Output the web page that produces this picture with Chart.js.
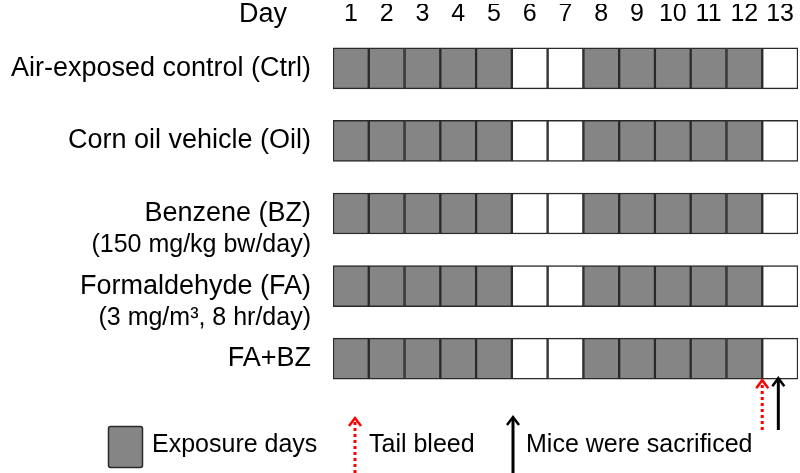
<!DOCTYPE html>
<html>
<head>
<meta charset="utf-8">
<script src="https://cdn.jsdelivr.net/npm/chart.js@4"></script>
<style>
  html, body { margin: 0; padding: 0; background: #fff; }
</style>
</head>
<body>
<canvas id="schedule" width="800" height="473"></canvas>
<script>
// study days and exposure schedule (1 = exposure day)
const days = [1, 2, 3, 4, 5, 6, 7, 8, 9, 10, 11, 12, 13];
const exposed = [1, 1, 1, 1, 1, 0, 0, 1, 1, 1, 1, 1, 0];
const groups = ['Air-exposed control (Ctrl)', 'Corn oil vehicle (Oil)', 'Benzene (BZ)', 'Formaldehyde (FA)', 'FA+BZ'];
const groupNotes = ['', '', '(150 mg/kg bw/day)', '(3 mg/m³, 8 hr/day)', ''];
// events, as position on the day axis
const tailBleedAt = 12;
const sacrificeAt = 12.45;

const FONT = '"Liberation Sans", Arial, sans-serif';
const GRAY = '#858585';
const EDGE = '#2a2a2a';

const datasets = days.map((d, i) => ({
    label: 'Day ' + d,
    data: groups.map(() => [d - 1, d]),
    backgroundColor: groups.map(() => exposed[i] ? GRAY : '#ffffff'),
    borderColor: EDGE,
    borderWidth: 1.5,
    borderSkipped: false,
    barThickness: 41,
    grouped: false
}));

function arrow(ctx, x, yTop, yBottom, color, dotted) {
    ctx.save();
    ctx.strokeStyle = color;
    ctx.lineWidth = 3;
    ctx.setLineDash(dotted ? [3, 3] : []);
    ctx.beginPath();
    ctx.moveTo(x, yBottom);
    ctx.lineTo(x, yTop + 3);
    ctx.stroke();
    ctx.setLineDash([]);
    ctx.lineWidth = 2.5;
    ctx.beginPath();
    ctx.moveTo(x - 6, yTop + 9);
    ctx.lineTo(x, yTop + 1);
    ctx.lineTo(x + 6, yTop + 9);
    ctx.stroke();
    ctx.restore();
}

const decorations = {
    id: 'decorations',
    afterDatasetsDraw(chart) {
        const ctx = chart.ctx;
        const xs = chart.scales.x, ys = chart.scales.y;
        ctx.save();
        ctx.fillStyle = '#000';
        ctx.textAlign = 'right';
        ctx.textBaseline = 'middle';
        groups.forEach((g, i) => {
            const y = ys.getPixelForValue(i);
            ctx.font = '27px ' + FONT;
            ctx.fillText(g, 311, y);
            if (groupNotes[i]) {
                ctx.font = '25px ' + FONT;
                ctx.fillText(groupNotes[i], 311, y + 32);
            }
        });
        ctx.font = '27px ' + FONT;
        ctx.fillText('Day', 287, 15);

        // event arrows under the last group
        const lastBottom = ys.getPixelForValue(groups.length - 1) + 20.5;
        arrow(ctx, xs.getPixelForValue(tailBleedAt), lastBottom, 430, '#ff0000', true);
        arrow(ctx, xs.getPixelForValue(sacrificeAt), lastBottom - 2, 430, '#000000', false);

        // legend
        ctx.fillStyle = GRAY;
        ctx.strokeStyle = EDGE;
        ctx.lineWidth = 1.5;
        ctx.beginPath();
        ctx.roundRect(108.5, 426.5, 34, 41, 2);
        ctx.fill();
        ctx.stroke();
        ctx.fillStyle = '#000';
        ctx.textAlign = 'left';
        ctx.font = '25px ' + FONT;
        ctx.fillText('Exposure days', 152, 445);
        arrow(ctx, 355, 417, 473, '#ff0000', true);
        ctx.fillText('Tail bleed', 369, 445);
        arrow(ctx, 513, 416, 473, '#000000', false);
        ctx.fillText('Mice were sacrificed', 526, 445);
        ctx.restore();
    }
};

new Chart(document.getElementById('schedule'), {
    type: 'bar',
    data: { labels: groups, datasets },
    options: {
        indexAxis: 'y',
        responsive: false,
        animation: false,
        layout: { padding: { left: 333, right: 2, top: 4, bottom: 78 } },
        plugins: { legend: { display: false }, tooltip: { enabled: false } },
        scales: {
            x: {
                type: 'linear',
                position: 'top',
                min: 0,
                max: 13,
                grid: { display: false },
                border: { display: false },
                afterBuildTicks: s => { s.ticks = days.map(d => ({ value: d - 0.5 })); },
                ticks: {
                    autoSkip: false,
                    maxRotation: 0,
                    padding: 0,
                    color: '#000',
                    font: { size: 25, family: FONT, lineHeight: 0.8 },
                    callback: v => String(Math.round(v + 0.5))
                }
            },
            y: { type: 'category', display: false, offset: true }
        }
    },
    plugins: [decorations]
});
</script>
</body>
</html>
